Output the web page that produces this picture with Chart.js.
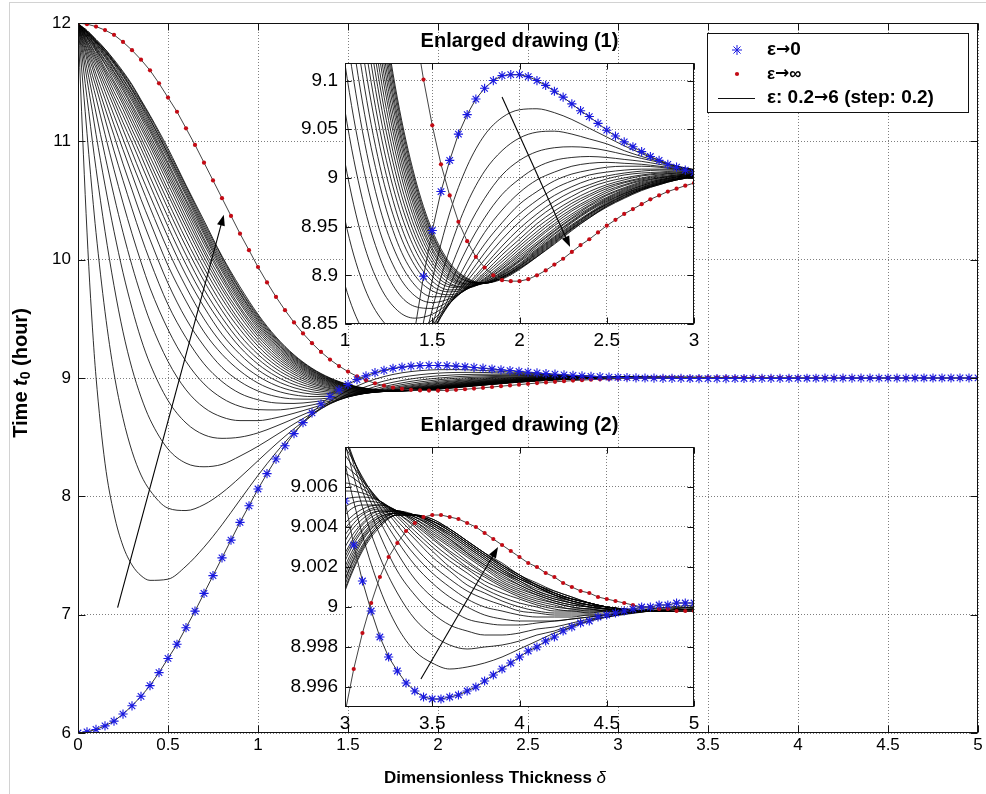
<!DOCTYPE html>
<html><head><meta charset="utf-8">
<script src="https://cdn.jsdelivr.net/npm/chart.js@4.4.1/dist/chart.umd.min.js"></script>
<style>
html,body{margin:0;padding:0;background:#fff;overflow:hidden}
#wrap{position:relative;width:986px;height:794px;background:#fff}
canvas{position:absolute;display:block}
#frame{position:absolute;left:9px;top:2px;width:990px;height:800px;border-left:1px solid #d2d2d2;border-top:1px solid #d2d2d2}
</style></head>
<body><div id="wrap">
<div id="frame"></div>
<canvas id="cMain" width="986" height="794" style="left:0;top:0"></canvas>
<canvas id="cIn1" width="440" height="340" style="left:265px;top:25px"></canvas>
<canvas id="cIn2" width="440" height="340" style="left:265px;top:409px"></canvas>
</div>
<script>
// ---------- DATA ----------
// sampling grid (dimensionless thickness delta) for the epsilon family
const deltaGrid=[0,0.02,0.04,0.06,0.08,0.1,0.15,0.2,0.25,0.3,0.35,0.4,0.5,0.6,0.7,0.8,0.9,1,1.1,1.2,1.3,1.4,1.5,1.6,1.7,1.8,1.9,2,2.1,2.2,2.3,2.4,2.5,2.6,2.7,2.8,2.9,3,3.1,3.2,3.3,3.4,3.5,3.6,3.7,3.8,3.9,4,4.1,4.2,4.3,4.4,4.5,4.75,5];
const familyEps=[0.2,0.4,0.6,0.8,1,1.2,1.4,1.6,1.8,2,2.2,2.4,2.6,2.8,3,3.2,3.4,3.6,3.8,4,4.2,4.4,4.6,4.8,5,5.2,5.4,5.6,5.8,6];
const c02=[12,11.25,10.55,9.94,9.43,9.01,8.28,7.85,7.58,7.42,7.33,7.29,7.3,7.41,7.57,7.76,7.97,8.177,8.369,8.54,8.685,8.803,8.895,8.964,9.012,9.044,9.062,9.07,9.071,9.067,9.06,9.051,9.042,9.033,9.025,9.018,9.012,9.0072,9.0036,9.0009,8.999,8.9978,8.9972,8.9969,8.997,8.9972,8.9975,8.9979,8.9983,8.9987,8.999,8.9993,8.9995,8.9999,9.0001];
const c04=[12,11.62,11.25,10.89,10.55,10.23,9.56,9.04,8.66,8.38,8.18,8.05,7.9,7.88,7.93,8.03,8.16,8.301,8.441,8.571,8.687,8.785,8.865,8.927,8.974,9.007,9.028,9.041,9.047,9.048,9.045,9.04,9.035,9.028,9.022,9.017,9.012,9.0082,9.005,9.0025,9.0007,8.9994,8.9986,8.9981,8.9979,8.998,8.9981,8.9983,8.9986,8.9988,8.9991,8.9993,8.9995,8.9999,9];
const c06=[12,11.75,11.49,11.25,11,10.77,10.24,9.78,9.39,9.08,8.84,8.65,8.4,8.28,8.25,8.27,8.34,8.423,8.517,8.612,8.701,8.781,8.848,8.904,8.947,8.979,9.003,9.018,9.027,9.031,9.032,9.031,9.028,9.024,9.02,9.016,9.012,9.0086,9.0058,9.0036,9.0018,9.0006,8.9997,8.9991,8.9988,8.9986,8.9986,8.9987,8.9989,8.999,8.9992,8.9994,8.9995,8.9998,9];
const c08=[12,11.81,11.62,11.43,11.25,11.06,10.63,10.24,9.89,9.59,9.33,9.12,8.81,8.62,8.52,8.49,8.5,8.536,8.593,8.657,8.723,8.785,8.841,8.889,8.928,8.959,8.983,8.999,9.011,9.018,9.021,9.022,9.021,9.019,9.017,9.014,9.011,9.0086,9.0062,9.0043,9.0027,9.0014,9.0005,8.9999,8.9994,8.9992,8.9991,8.9991,8.9992,8.9993,8.9994,8.9995,8.9996,8.9998,9];
const c10=[12,11.85,11.69,11.54,11.39,11.24,10.88,10.54,10.23,9.95,9.7,9.48,9.14,8.9,8.75,8.67,8.64,8.64,8.664,8.702,8.747,8.794,8.839,8.879,8.914,8.944,8.967,8.985,8.998,9.006,9.012,9.015,9.016,9.015,9.014,9.012,9.01,9.0083,9.0064,9.0047,9.0033,9.0021,9.0012,9.0005,9,8.9996,8.9994,8.9993,8.9993,8.9993,8.9994,8.9995,8.9996,8.9998,8.9999];
const c12=[12,11.87,11.75,11.62,11.49,11.37,11.06,10.76,10.48,10.22,9.98,9.76,9.41,9.14,8.95,8.83,8.76,8.733,8.73,8.745,8.772,8.805,8.84,8.874,8.905,8.932,8.954,8.973,8.986,8.997,9.004,9.008,9.011,9.012,9.012,9.011,9.009,9.008,9.0065,9.005,9.0037,9.0026,9.0017,9.001,9.0004,9,8.9998,8.9996,8.9995,8.9995,8.9995,8.9996,8.9996,8.9998,8.9999];
const c14=[12,11.89,11.78,11.67,11.56,11.46,11.19,10.92,10.67,10.43,10.2,9.99,9.62,9.34,9.12,8.97,8.87,8.816,8.789,8.785,8.797,8.818,8.844,8.871,8.898,8.923,8.945,8.963,8.977,8.989,8.997,9.003,9.006,9.008,9.009,9.009,9.009,9.0076,9.0064,9.0052,9.0041,9.003,9.0021,9.0014,9.0008,9.0004,9.0001,8.9998,8.9997,8.9996,8.9996,8.9996,8.9996,8.9998,8.9999];
const c16=[12,11.9,11.81,11.71,11.62,11.52,11.28,11.05,10.81,10.59,10.37,10.17,9.8,9.5,9.27,9.09,8.97,8.89,8.844,8.823,8.821,8.831,8.849,8.871,8.894,8.916,8.937,8.955,8.97,8.982,8.991,8.998,9.002,9.005,9.007,9.008,9.008,9.0071,9.0063,9.0053,9.0043,9.0034,9.0025,9.0018,9.0011,9.0007,9.0003,9,8.9998,8.9997,8.9997,8.9997,8.9997,8.9998,8.9999];
const c18=[12,11.92,11.83,11.74,11.66,11.57,11.36,11.14,10.93,10.72,10.51,10.32,9.95,9.65,9.39,9.2,9.06,8.957,8.893,8.857,8.843,8.844,8.854,8.871,8.89,8.91,8.93,8.948,8.963,8.976,8.986,8.993,8.999,9.003,9.005,9.006,9.007,9.0067,9.0061,9.0053,9.0045,9.0036,9.0028,9.002,9.0014,9.0009,9.0005,9.0002,9,8.9998,8.9998,8.9997,8.9998,8.9998,8.9999];
const c20=[12,11.92,11.85,11.77,11.69,11.62,11.42,11.22,11.02,10.82,10.63,10.44,10.08,9.77,9.5,9.29,9.13,9.016,8.937,8.889,8.864,8.856,8.86,8.872,8.888,8.907,8.925,8.942,8.958,8.971,8.981,8.99,8.996,9,9.003,9.005,9.006,9.0062,9.0059,9.0053,9.0046,9.0038,9.003,9.0023,9.0017,9.0011,9.0007,9.0004,9.0001,8.9999,8.9998,8.9998,8.9998,8.9998,8.9998];
const c22=[12,11.93,11.86,11.79,11.72,11.65,11.47,11.29,11.1,10.91,10.72,10.54,10.19,9.87,9.6,9.37,9.2,9.069,8.978,8.918,8.883,8.868,8.866,8.874,8.887,8.903,8.921,8.937,8.953,8.966,8.977,8.986,8.993,8.998,9.002,9.004,9.005,9.0058,9.0057,9.0053,9.0047,9.004,9.0032,9.0025,9.0019,9.0013,9.0009,9.0005,9.0002,9,8.9999,8.9998,8.9998,8.9998,8.9998];
const c24=[12,11.94,11.87,11.81,11.74,11.68,11.51,11.34,11.16,10.99,10.81,10.63,10.28,9.96,9.68,9.45,9.26,9.117,9.015,8.945,8.902,8.879,8.872,8.876,8.886,8.901,8.917,8.933,8.949,8.962,8.974,8.983,8.991,8.996,9,9.003,9.005,9.0054,9.0055,9.0053,9.0047,9.0041,9.0034,9.0027,9.002,9.0015,9.001,9.0006,9.0003,9.0001,8.9999,8.9999,8.9998,8.9998,8.9998];
const c26=[12,11.94,11.88,11.82,11.76,11.7,11.55,11.38,11.22,11.05,10.88,10.7,10.36,10.04,9.75,9.51,9.31,9.161,9.048,8.969,8.919,8.89,8.878,8.878,8.886,8.899,8.914,8.93,8.945,8.959,8.971,8.981,8.989,8.995,8.999,9.002,9.004,9.005,9.0053,9.0052,9.0048,9.0042,9.0035,9.0028,9.0022,9.0016,9.0011,9.0007,9.0004,9.0002,9,8.9999,8.9998,8.9998,8.9998];
const c28=[12,11.95,11.89,11.84,11.78,11.72,11.58,11.42,11.27,11.1,10.94,10.77,10.43,10.11,9.82,9.57,9.36,9.2,9.078,8.992,8.934,8.9,8.884,8.88,8.886,8.897,8.911,8.927,8.942,8.956,8.968,8.978,8.987,8.993,8.998,9.001,9.003,9.0046,9.0051,9.0051,9.0048,9.0043,9.0036,9.003,9.0023,9.0017,9.0012,9.0008,9.0005,9.0002,9,8.9999,8.9999,8.9998,8.9998];
const c30=[12,11.95,11.9,11.85,11.79,11.74,11.6,11.46,11.31,11.15,10.99,10.82,10.49,10.17,9.88,9.62,9.41,9.236,9.106,9.012,8.949,8.91,8.889,8.883,8.886,8.896,8.909,8.924,8.939,8.953,8.966,8.976,8.985,8.992,8.997,9,9.003,9.0042,9.0049,9.0051,9.0048,9.0043,9.0037,9.0031,9.0025,9.0019,9.0013,9.0009,9.0006,9.0003,9.0001,9,8.9999,8.9999,8.9998];
const c32=[12,11.95,11.9,11.86,11.81,11.76,11.62,11.49,11.34,11.19,11.03,10.87,10.55,10.23,9.93,9.67,9.45,9.269,9.132,9.032,8.962,8.918,8.894,8.885,8.887,8.895,8.907,8.922,8.937,8.951,8.963,8.974,8.983,8.99,8.996,9,9.002,9.0039,9.0047,9.005,9.0048,9.0044,9.0038,9.0032,9.0026,9.002,9.0014,9.001,9.0006,9.0003,9.0001,9,8.9999,8.9998,8.9998];
const c34=[12,11.95,11.91,11.86,11.82,11.77,11.65,11.51,11.37,11.23,11.07,10.92,10.59,10.28,9.98,9.71,9.48,9.299,9.156,9.049,8.975,8.927,8.899,8.888,8.887,8.894,8.906,8.92,8.934,8.948,8.961,8.972,8.982,8.989,8.995,8.999,9.002,9.0036,9.0046,9.0049,9.0048,9.0044,9.0039,9.0033,9.0027,9.0021,9.0015,9.0011,9.0007,9.0004,9.0002,9,8.9999,8.9998,8.9998];
const c36=[12,11.96,11.91,11.87,11.83,11.78,11.66,11.54,11.4,11.26,11.11,10.96,10.64,10.32,10.02,9.75,9.52,9.326,9.177,9.066,8.987,8.935,8.904,8.89,8.888,8.893,8.904,8.918,8.932,8.946,8.959,8.971,8.98,8.988,8.994,8.998,9.001,9.0033,9.0044,9.0048,9.0048,9.0045,9.004,9.0034,9.0027,9.0021,9.0016,9.0011,9.0007,9.0004,9.0002,9,8.9999,8.9998,8.9998];
const c38=[12,11.96,11.92,11.88,11.84,11.79,11.68,11.56,11.43,11.29,11.14,10.99,10.68,10.36,10.06,9.78,9.55,9.352,9.197,9.081,8.998,8.942,8.909,8.892,8.888,8.893,8.903,8.916,8.931,8.945,8.958,8.969,8.979,8.987,8.993,8.998,9.001,9.003,9.0042,9.0048,9.0048,9.0045,9.004,9.0034,9.0028,9.0022,9.0017,9.0012,9.0008,9.0005,9.0002,9.0001,8.9999,8.9998,8.9998];
const c40=[12,11.96,11.92,11.88,11.84,11.8,11.69,11.58,11.45,11.31,11.17,11.02,10.71,10.4,10.09,9.82,9.58,9.375,9.216,9.095,9.008,8.949,8.913,8.895,8.889,8.892,8.902,8.915,8.929,8.943,8.956,8.968,8.978,8.986,8.992,8.997,9.001,9.0027,9.0041,9.0047,9.0048,9.0045,9.0041,9.0035,9.0029,9.0023,9.0017,9.0013,9.0008,9.0005,9.0003,9.0001,8.9999,8.9998,8.9998];
const c42=[12,11.96,11.93,11.89,11.85,11.81,11.71,11.59,11.47,11.34,11.2,11.05,10.74,10.43,10.13,9.85,9.6,9.397,9.233,9.108,9.018,8.956,8.917,8.897,8.89,8.892,8.901,8.914,8.927,8.942,8.955,8.967,8.977,8.985,8.992,8.997,9,9.0025,9.0039,9.0046,9.0048,9.0046,9.0041,9.0036,9.003,9.0024,9.0018,9.0013,9.0009,9.0006,9.0003,9.0001,9,8.9998,8.9998];
const c44=[12,11.97,11.93,11.89,11.86,11.82,11.72,11.61,11.49,11.36,11.22,11.08,10.77,10.46,10.16,9.87,9.63,9.417,9.249,9.121,9.027,8.962,8.921,8.899,8.891,8.892,8.9,8.912,8.926,8.94,8.954,8.966,8.976,8.984,8.991,8.996,9,9.0023,9.0038,9.0045,9.0047,9.0046,9.0042,9.0036,9.003,9.0024,9.0018,9.0014,9.001,9.0006,9.0003,9.0001,9,8.9998,8.9998];
const c46=[12,11.97,11.93,11.9,11.86,11.83,11.73,11.62,11.5,11.38,11.24,11.1,10.8,10.49,10.18,9.9,9.65,9.436,9.265,9.132,9.035,8.968,8.925,8.901,8.891,8.892,8.9,8.911,8.925,8.939,8.952,8.964,8.975,8.984,8.99,8.996,8.999,9.002,9.0036,9.0045,9.0047,9.0046,9.0042,9.0037,9.0031,9.0025,9.0019,9.0014,9.001,9.0006,9.0003,9.0001,9,8.9998,8.9998];
const c48=[12,11.97,11.94,11.9,11.87,11.83,11.74,11.63,11.52,11.4,11.26,11.12,10.82,10.51,10.21,9.92,9.67,9.453,9.279,9.143,9.043,8.973,8.928,8.903,8.892,8.892,8.899,8.91,8.924,8.938,8.951,8.963,8.974,8.983,8.99,8.995,8.999,9.0018,9.0035,9.0044,9.0047,9.0046,9.0042,9.0037,9.0031,9.0025,9.0019,9.0014,9.001,9.0006,9.0004,9.0002,9,8.9998,8.9998];
const c50=[12,11.97,11.94,11.91,11.87,11.84,11.75,11.65,11.53,11.41,11.28,11.14,10.85,10.54,10.23,9.94,9.69,9.47,9.292,9.153,9.051,8.978,8.932,8.905,8.893,8.892,8.898,8.909,8.923,8.937,8.95,8.963,8.973,8.982,8.989,8.995,8.999,9.0016,9.0034,9.0043,9.0047,9.0046,9.0043,9.0038,9.0032,9.0026,9.002,9.0015,9.001,9.0007,9.0004,9.0002,9,8.9998,8.9998];
const c52=[12,11.97,11.94,11.91,11.88,11.84,11.76,11.66,11.55,11.43,11.3,11.16,10.87,10.56,10.25,9.96,9.71,9.485,9.304,9.163,9.058,8.983,8.935,8.906,8.894,8.892,8.898,8.909,8.922,8.936,8.949,8.962,8.973,8.982,8.989,8.994,8.999,9.0014,9.0033,9.0043,9.0047,9.0046,9.0043,9.0038,9.0032,9.0026,9.002,9.0015,9.0011,9.0007,9.0004,9.0002,9,8.9998,8.9998];
const c54=[12,11.97,11.94,11.91,11.88,11.85,11.76,11.67,11.56,11.44,11.31,11.18,10.89,10.58,10.27,9.98,9.72,9.499,9.316,9.172,9.064,8.988,8.938,8.908,8.894,8.892,8.898,8.908,8.921,8.935,8.948,8.961,8.972,8.981,8.988,8.994,8.998,9.0013,9.0031,9.0042,9.0046,9.0046,9.0043,9.0038,9.0032,9.0026,9.0021,9.0015,9.0011,9.0007,9.0004,9.0002,9,8.9998,8.9998];
const c56=[12,11.97,11.94,11.92,11.89,11.85,11.77,11.67,11.57,11.45,11.33,11.19,10.9,10.6,10.29,10,9.74,9.513,9.327,9.181,9.071,8.993,8.941,8.91,8.895,8.892,8.897,8.907,8.92,8.934,8.948,8.96,8.971,8.98,8.988,8.994,8.998,9.0011,9.003,9.0041,9.0046,9.0046,9.0043,9.0039,9.0033,9.0027,9.0021,9.0016,9.0011,9.0007,9.0004,9.0002,9,8.9998,8.9998];
const c58=[12,11.97,11.95,11.92,11.89,11.86,11.78,11.68,11.58,11.47,11.34,11.21,10.92,10.62,10.31,10.02,9.75,9.526,9.337,9.189,9.077,8.997,8.943,8.911,8.896,8.892,8.897,8.907,8.919,8.933,8.947,8.959,8.971,8.98,8.988,8.993,8.998,9.0009,9.0029,9.0041,9.0046,9.0046,9.0044,9.0039,9.0033,9.0027,9.0021,9.0016,9.0011,9.0008,9.0005,9.0002,9,8.9998,8.9998];
const c60=[12,11.97,11.95,11.92,11.89,11.86,11.78,11.69,11.59,11.48,11.35,11.22,10.94,10.63,10.33,10.03,9.77,9.538,9.347,9.196,9.082,9.001,8.946,8.913,8.897,8.892,8.896,8.906,8.919,8.932,8.946,8.959,8.97,8.979,8.987,8.993,8.998,9.0008,9.0028,9.004,9.0046,9.0046,9.0044,9.0039,9.0033,9.0027,9.0022,9.0016,9.0012,9.0008,9.0005,9.0002,9,8.9998,8.9998];
const familyCurves=[c02,c04,c06,c08,c10,c12,c14,c16,c18,c20,c22,c24,c26,c28,c30,c32,c34,c36,c38,c40,c42,c44,c46,c48,c50,c52,c54,c56,c58,c60];

// marker grid for the two limiting cases
const deltaMarkers=[0,0.05,0.1,0.15,0.2,0.25,0.3,0.35,0.4,0.45,0.5,0.55,0.6,0.65,0.7,0.75,0.8,0.85,0.9,0.95,1,1.05,1.1,1.15,1.2,1.25,1.3,1.35,1.4,1.45,1.5,1.55,1.6,1.65,1.7,1.75,1.8,1.85,1.9,1.95,2,2.05,2.1,2.15,2.2,2.25,2.3,2.35,2.4,2.45,2.5,2.55,2.6,2.65,2.7,2.75,2.8,2.85,2.9,2.95,3,3.05,3.1,3.15,3.2,3.25,3.3,3.35,3.4,3.45,3.5,3.55,3.6,3.65,3.7,3.75,3.8,3.85,3.9,3.95,4,4.05,4.1,4.15,4.2,4.25,4.3,4.35,4.4,4.45,4.5,4.55,4.6,4.65,4.7,4.75,4.8,4.85,4.9,4.95,5];
const tEpsZero=[6,6.01,6.03,6.06,6.1,6.16,6.23,6.31,6.4,6.51,6.63,6.75,6.89,7.03,7.18,7.33,7.48,7.63,7.78,7.92,8.062,8.192,8.315,8.427,8.53,8.623,8.706,8.78,8.844,8.899,8.946,8.986,9.018,9.045,9.065,9.081,9.092,9.1,9.105,9.106,9.106,9.104,9.1,9.095,9.089,9.083,9.076,9.069,9.063,9.056,9.049,9.043,9.037,9.032,9.027,9.022,9.018,9.014,9.011,9.008,9.0053,9.0031,9.0013,8.9998,8.9985,8.9975,8.9968,8.9962,8.9958,8.9955,8.9954,8.9954,8.9955,8.9956,8.9958,8.996,8.9963,8.9966,8.9969,8.9972,8.9975,8.9978,8.998,8.9983,8.9985,8.9988,8.999,8.9992,8.9993,8.9995,8.9996,8.9997,8.9998,8.9999,9,9,9.0001,9.0001,9.0002,9.0002,9.0002];
const tEpsInf=[12,11.99,11.97,11.94,11.9,11.84,11.77,11.69,11.6,11.49,11.37,11.25,11.11,10.97,10.82,10.67,10.52,10.37,10.22,10.08,9.938,9.808,9.685,9.573,9.47,9.377,9.294,9.22,9.156,9.101,9.054,9.014,8.982,8.955,8.935,8.919,8.908,8.9,8.895,8.894,8.894,8.896,8.9,8.905,8.911,8.917,8.924,8.931,8.937,8.944,8.951,8.957,8.963,8.968,8.973,8.978,8.982,8.986,8.989,8.992,8.9947,8.9969,8.9987,9.0002,9.0015,9.0025,9.0032,9.0038,9.0042,9.0045,9.0046,9.0046,9.0045,9.0044,9.0042,9.004,9.0037,9.0034,9.0031,9.0028,9.0025,9.0022,9.002,9.0017,9.0015,9.0012,9.001,9.0008,9.0007,9.0005,9.0004,9.0003,9.0002,9.0001,9,9,8.9999,8.9999,8.9998,8.9998,8.9998];

// tick labels
const mainXTicks=[0,0.5,1,1.5,2,2.5,3,3.5,4,4.5,5];
const mainYTicks=[6,7,8,9,10,11,12];
const in1XTicks=[1,1.5,2,2.5,3];
const in1YTicks=[8.85,8.9,8.95,9,9.05,9.1];
const in2XTicks=[3,3.5,4,4.5,5];
const in2YTicks=[8.996,8.998,9,9.002,9.004,9.006];
// arrow annotations (data coordinates: [delta, t0])
const arrowMain=[[0.22,7.06],[0.81,10.38]];
const arrowIn1=[[1.9,9.083],[2.29,8.929]];
const arrowIn2=[[3.435,8.9964],[3.877,9.003]];
// texts
const legendTexts=[['\u03b5','\u2192','0'],['\u03b5','\u2192','\u221e'],['\u03b5: 0.2','\u2192','6 (step: 0.2)']];

// ---------- STYLE / BUILD ----------
const FONT="'Liberation Sans', Arial, Helvetica, sans-serif";
Chart.defaults.font.family=FONT;
Chart.defaults.color='#000';
const BLUE='rgb(25,25,225)', RED='rgb(195,10,20)';

function familyDatasets(maxX){
  return familyCurves.map((arr,k)=>({
    label:'eps '+familyEps[k],
    data:deltaGrid.map((x,i)=>({x:x,y:arr[i]})).filter(p=>p.x<=maxX),
    showLine:true,borderColor:'rgba(0,0,0,0.82)',borderWidth:1,pointRadius:0,
    cubicInterpolationMode:'monotone'}));
}
function limitDatasets(){
  return [
    {label:'eps->0',data:deltaMarkers.map((x,i)=>({x:x,y:tEpsZero[i]})),showLine:true,
     borderColor:'#333',borderWidth:1,pointStyle:'star',pointRadius:4.6,pointBorderColor:BLUE,
     pointBackgroundColor:BLUE,pointBorderWidth:1.1,tension:0},
    {label:'eps->inf',data:deltaMarkers.map((x,i)=>({x:x,y:tEpsInf[i]})),showLine:true,
     borderColor:'#444',borderWidth:1,pointStyle:'circle',pointRadius:2.1,pointBorderColor:RED,
     pointBackgroundColor:RED,pointBorderWidth:0,tension:0}
  ];
}
function fmt(v){return String(parseFloat(Number(v).toFixed(4)));}

function drawArrow(ctx,x1,y1,x2,y2){
  const ang=Math.atan2(y2-y1,x2-x1),L=11,W=4;
  ctx.beginPath();ctx.moveTo(x1,y1);ctx.lineTo(x2-L*0.6*Math.cos(ang),y2-L*0.6*Math.sin(ang));ctx.stroke();
  ctx.beginPath();ctx.moveTo(x2,y2);
  ctx.lineTo(x2-L*Math.cos(ang)+W*Math.sin(ang),y2-L*Math.sin(ang)-W*Math.cos(ang));
  ctx.lineTo(x2-L*Math.cos(ang)-W*Math.sin(ang),y2-L*Math.sin(ang)+W*Math.cos(ang));
  ctx.closePath();ctx.fill();
}
function drawPieces(c,pieces,x,y){
  // pieces: [text, font]
  let xx=x;
  pieces.forEach(p=>{c.font=p[1];c.fillText(p[0],xx,y);xx+=c.measureText(p[0]).width;});
}

const framePlugin={
  id:'frame',
  beforeDraw(chart,args,o){
    if(!o.white)return;const a=chart.chartArea,c=chart.ctx;
    c.save();c.fillStyle='#fff';c.fillRect(a.left,a.top,a.right-a.left,a.bottom-a.top);c.restore();
  },
  afterDatasetsDraw(chart,args,o){
    const a=chart.chartArea,c=chart.ctx,sx=chart.scales.x,sy=chart.scales.y;
    c.save();
    const L=Math.round(a.left)+0.5,R=Math.round(a.right)-0.5,T=Math.round(a.top)+0.5,B=Math.round(a.bottom)-0.5;
    c.strokeStyle='#111';c.lineWidth=1;
    c.beginPath();
    const tl=o.tick||7;
    sx.ticks.forEach(t=>{const p=Math.round(sx.getPixelForValue(t.value))+0.5;c.moveTo(p,B);c.lineTo(p,B-tl);c.moveTo(p,T);c.lineTo(p,T+tl);});
    sy.ticks.forEach(t=>{const p=Math.round(sy.getPixelForValue(t.value))+0.5;c.moveTo(L,p);c.lineTo(L+tl,p);c.moveTo(R,p);c.lineTo(R-tl,p);});
    c.stroke();
    c.strokeRect(L,T,R-L,B-T);
    if(o.arrow){
      c.beginPath();c.rect(a.left,a.top,a.right-a.left,a.bottom-a.top);c.clip();
      c.strokeStyle='#000';c.fillStyle='#000';c.lineWidth=1.1;
      const f=o.arrow[0],t=o.arrow[1];
      drawArrow(c,sx.getPixelForValue(f[0]),sy.getPixelForValue(f[1]),sx.getPixelForValue(t[0]),sy.getPixelForValue(t[1]));
    }
    c.restore();
  },
  afterDraw(chart,args,o){
    const c=chart.ctx;
    if(o.title){
      c.save();c.font='bold 20px '+FONT;c.fillStyle='#000';c.textAlign='center';c.textBaseline='alphabetic';
      const a=chart.chartArea;c.fillText(o.title,(a.left+a.right)/2,a.top-16);c.restore();
    }
    if(o.main){
      c.save();c.fillStyle='#000';
      // x axis title
      const p1='Dimensionless Thickness ',p2='\u03b4';
      c.font='bold 17px '+FONT;const w1=c.measureText(p1).width;
      c.font='italic 17px '+FONT;const w2=c.measureText(p2).width;
      let x0=495-(w1+w2)/2;c.textBaseline='alphabetic';c.textAlign='left';
      c.font='bold 17px '+FONT;c.fillText(p1,x0,783);
      c.font='italic 17px '+FONT;c.fillText(p2,x0+w1,783);
      // y axis title
      c.translate(21,373);c.rotate(-Math.PI/2);c.textBaseline='middle';
      const parts=[['Time ','bold 20px ',0],['t','italic bold 20px ',0],['0','bold 14px ',5],[' (hour)','bold 20px ',0]];
      let tw=0;parts.forEach(p=>{c.font=p[1]+FONT;p.push(c.measureText(p[0]).width);tw+=p[3];});
      let xx=-tw/2;parts.forEach(p=>{c.font=p[1]+FONT;c.fillText(p[0],xx,p[2]);xx+=p[3];});
      c.restore();
      // legend box
      c.save();
      c.fillStyle='#fff';c.fillRect(707,33,262,80);
      c.strokeStyle='#111';c.lineWidth=1;c.strokeRect(707.5,33.5,261,79);
      c.strokeStyle=BLUE;c.fillStyle=BLUE;
      Chart.helpers.drawPoint(c,{pointStyle:'star',radius:5,borderWidth:1.1,rotation:0},737,50);
      c.fillStyle=RED;c.beginPath();c.arc(737,74,2.1,0,Math.PI*2);c.fill();
      c.strokeStyle='#111';c.lineWidth=1;c.beginPath();c.moveTo(718,98.5);c.lineTo(755,98.5);c.stroke();
      c.fillStyle='#000';c.textBaseline='middle';c.textAlign='left';
      const AR="bold 17px 'DejaVu Sans', sans-serif";
      const rows=[[50,19,19],[74,17,17],[98,19,19]];
      legendTexts.forEach((t,i)=>{
        const fz=rows[i][1];
        drawPieces(c,[[t[0],'bold '+fz+'px '+FONT],[t[1],AR],[t[2],'bold '+rows[i][2]+'px '+FONT]],767,rows[i][0]);
      });
      c.restore();
    }
  }
};

function scaleOpts(min,max,ticks,font,pad,fitFn){
  return {type:'linear',min:min,max:max,
    afterBuildTicks:s=>{s.ticks=ticks.map(v=>({value:v}));},
    afterFit:fitFn,
    ticks:{font:{size:font,family:FONT},color:'#000',padding:pad,callback:v=>fmt(v),maxRotation:0,autoSkip:false},
    grid:{color:'rgba(0,0,0,0.5)',lineWidth:1,drawTicks:false},
    border:{display:false,dash:[1,2]}};
}

function makeChart(id,cfg){
  return new Chart(document.getElementById(id),{
    type:'scatter',
    data:{datasets:limitDatasets().concat(familyDatasets(cfg.familyMax))},
    options:{responsive:false,animation:false,events:[],
      layout:{padding:cfg.padding},
      plugins:{legend:{display:false},tooltip:{enabled:false},title:{display:false},
        frame:{white:cfg.white,arrow:cfg.arrow,title:cfg.title,main:cfg.main,tick:cfg.tick}},
      scales:{
        x:scaleOpts(cfg.x[0],cfg.x[1],cfg.xt,cfg.font,cfg.xpad,s=>{s.height=cfg.xh;}),
        y:scaleOpts(cfg.y[0],cfg.y[1],cfg.yt,cfg.font,7,s=>{s.width=cfg.yw;})
      }},
    plugins:[framePlugin]
  });
}

makeChart('cMain',{x:[0,5],y:[6,12],xt:mainXTicks,yt:mainYTicks,font:17,xpad:2,xh:61,yw:78,
  padding:{left:0,right:8,top:23,bottom:0},white:false,arrow:arrowMain,main:true,familyMax:3.7,tick:7});
makeChart('cIn1',{x:[1,3],y:[8.85,9.118],xt:in1XTicks,yt:in1YTicks,font:19,xpad:5,xh:41,yw:80,
  padding:{left:0,right:11,top:38,bottom:0},white:true,arrow:arrowIn1,title:'Enlarged drawing (1)',familyMax:5,tick:6});
makeChart('cIn2',{x:[3,5],y:[8.995,9.008],xt:in2XTicks,yt:in2YTicks,font:19,xpad:5,xh:42,yw:80,
  padding:{left:0,right:11,top:38,bottom:0},white:true,arrow:arrowIn2,title:'Enlarged drawing (2)',familyMax:5,tick:6});
</script>
</body></html>
